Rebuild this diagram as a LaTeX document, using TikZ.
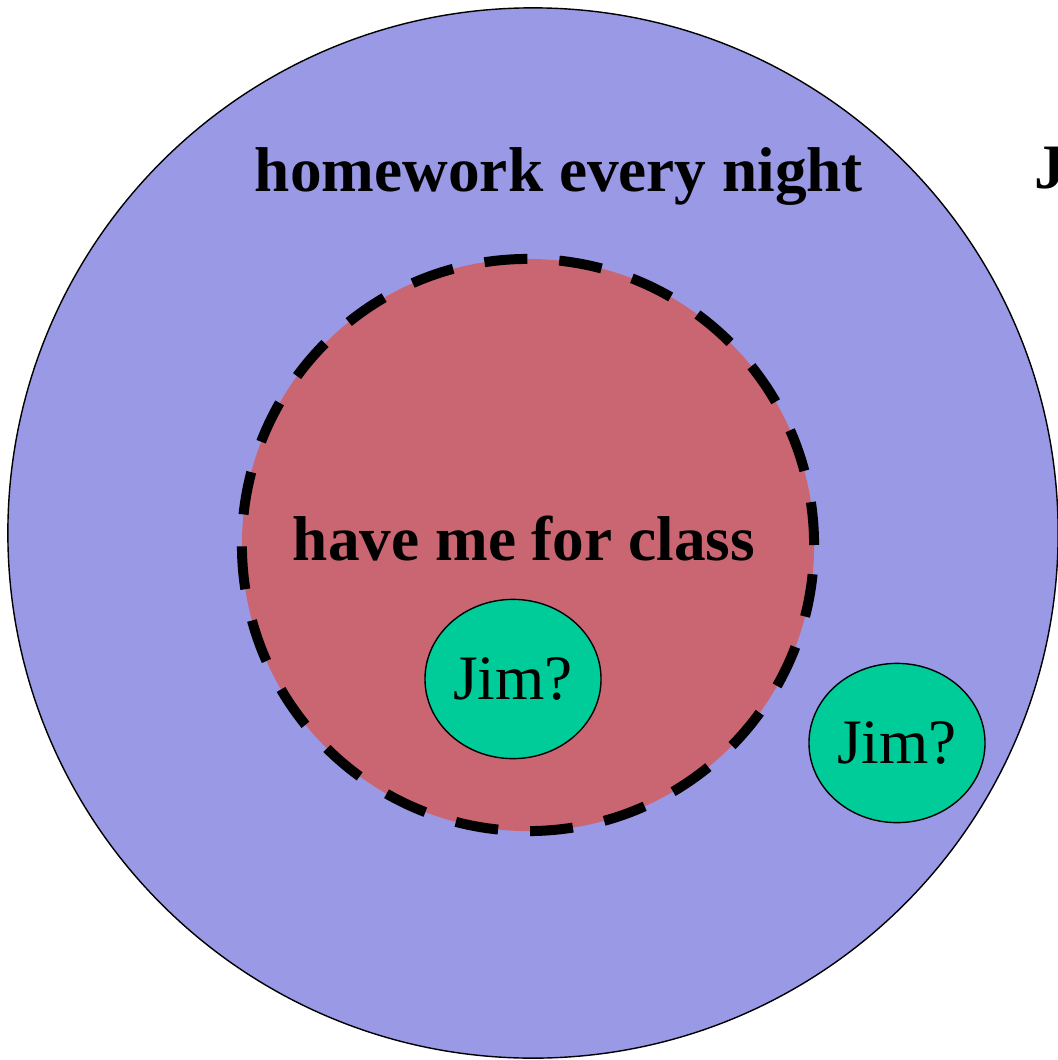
\documentclass[tikz,border=0pt]{standalone}
\usepackage{fontspec}
\setmainfont{Liberation Serif}
\usetikzlibrary{shapes.geometric}

\definecolor{setblue}{RGB}{153,153,229}
\definecolor{setred}{RGB}{202,102,114}
\definecolor{setgreen}{RGB}{0,204,153}

\tikzset{
  guess/.style={draw,ellipse,fill=setgreen,line width=1pt,minimum width=4.4cm,minimum height=3.98cm,inner sep=0pt,font=\fontsize{45}{54}\selectfont},
  setlabel/.style={font=\fontsize{45}{54}\selectfont\bfseries,inner sep=0pt}
}

\begin{document}
\begin{tikzpicture}[x=0.025cm,y=-0.025cm]
  \useasboundingbox (0,0) rectangle (1058,1060);
  \clip (0,0) rectangle (1058,1060);
  % the two sets
  \node[draw,circle,fill=setblue,line width=1pt,minimum size=26.25cm] (homework) at (533,533) {};
  \node[draw,circle,fill=setred,line width=7.1pt,dash pattern=on 1.075cm off 0.8cm,minimum size=14.3cm] (myclass) at (528,545) {};
  \node[setlabel,anchor=base] (homeworktext) at (559,191) {homework every night};
  \node[setlabel,anchor=base] (myclasstext) at (524,560) {have me for class};
  \node[setlabel,anchor=base west] (cutoff) at (1034,188) {J};
  % where Jim might be
  \node[guess] (jimin) at (513,679) {Jim?};
  \node[guess] (jimout) at (897,743) {Jim?};
\end{tikzpicture}
\end{document}
